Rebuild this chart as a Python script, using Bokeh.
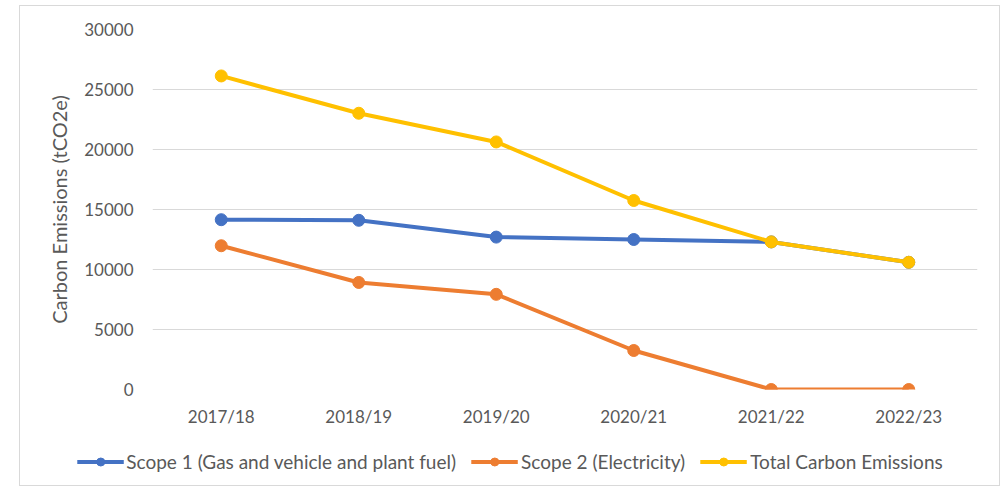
from bokeh.plotting import figure
from bokeh.layouts import column
from bokeh.models import FactorRange, Range1d, FixedTicker, Legend, LegendItem
from bokeh.embed import file_html
from bokeh.resources import INLINE

years = ["2017/18", "2018/19", "2019/20", "2020/21", "2021/22", "2022/23"]
scope1 = [14150, 14100, 12700, 12500, 12300, 10600]
scope2 = [11980, 8920, 7930, 3250, 0, 0]
total = [26130, 23020, 20630, 15750, 12300, 10600]
y_ticks = [0, 5000, 10000, 15000, 20000, 25000, 30000]

FONT = "Lato"
TXT = "#595959"

series = [
    ("Scope 1 (Gas and vehicle and plant fuel)", scope1, "#4472C4"),
    ("Scope 2 (Electricity)", scope2, "#ED7D31"),
    ("Total Carbon Emissions", total, "#FFC000"),
]

# ---- main chart ----
p = figure(x_range=FactorRange(factors=years, range_padding=0),
           y_range=Range1d(0, 30000),
           frame_width=825, frame_height=360, output_backend="svg", toolbar_location=None,
           min_border_left=132, min_border_right=22, min_border_top=23, min_border_bottom=48)
p.outline_line_color = None
p.xgrid.grid_line_color = None
p.ygrid.grid_line_color = "#d9d9d9"
p.ygrid.grid_line_width = 1

p.yaxis.ticker = FixedTicker(ticks=y_ticks)
p.yaxis.axis_line_color = None
p.yaxis.major_tick_line_color = None
p.yaxis.minor_tick_line_color = None
p.yaxis.major_tick_out = 0
p.yaxis.major_label_standoff = 19
p.yaxis.axis_label = "Carbon Emissions (tCO2e)"
p.yaxis.axis_label_text_font_style = "normal"
p.yaxis.axis_label_text_font = FONT
p.yaxis.axis_label_text_font_size = "20px"
p.yaxis.axis_label_text_color = TXT
p.yaxis.axis_label_standoff = 10

p.xaxis.axis_line_color = None
p.xaxis.major_tick_line_color = None
p.xaxis.minor_tick_line_color = None
p.xaxis.major_tick_out = 0
p.xaxis.major_label_standoff = 16

for ax in (p.xaxis, p.yaxis):
    ax.major_label_text_font = FONT
    ax.major_label_text_font_size = "17px"
    ax.major_label_text_color = TXT

for name, vals, col in series:
    p.line(years, vals, line_color=col, line_width=4)
    p.scatter(years, vals, size=12, fill_color=col, line_color=col)

# ---- legend strip (same series, drawn outside its visible range) ----
p2 = figure(x_range=FactorRange(factors=years, range_padding=0),
            y_range=Range1d(-2, -1),
            x_axis_type=None, y_axis_type=None,
            frame_width=979, frame_height=48, output_backend="svg", toolbar_location=None,
            min_border_left=0, min_border_right=0, min_border_top=0, min_border_bottom=0)
p2.outline_line_color = None
items = []
for name, vals, col in series:
    l = p2.line(years, vals, line_color=col, line_width=4)
    s = p2.scatter(years, vals, size=12, fill_color=col, line_color=col)
    items.append(LegendItem(label=name, renderers=[l, s]))

legend = Legend(items=items, orientation="horizontal", location="center",
                label_text_font=FONT, label_text_font_size="19px", label_text_color=TXT,
                glyph_width=47, glyph_height=20, spacing=15, label_standoff=3,
                border_line_color=None, background_fill_alpha=0, margin=0, padding=0)
p2.add_layout(legend, "center")

layout = column(p, p2, spacing=0)
layout.styles = {"margin-left": "19px", "margin-top": "5px", "border": "1px solid #d9d9d9"}

open("out.html", "w").write(file_html(layout, INLINE))
